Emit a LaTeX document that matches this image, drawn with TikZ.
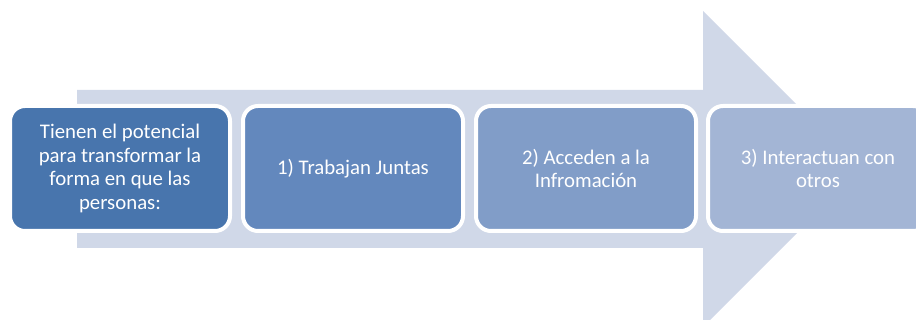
\documentclass[tikz,border=0pt]{standalone}
\usepackage{fontspec}
\setmainfont{Carlito}

\definecolor{shaft}{HTML}{D0D8E8}
\definecolor{stepA}{HTML}{4875AD}
\definecolor{stepB}{HTML}{6388BD}
\definecolor{stepC}{HTML}{819DC8}
\definecolor{stepD}{HTML}{A3B5D5}

\tikzstyle{stage} = [draw=white, line width=4pt, rounded corners=15pt, minimum width=220pt, minimum height=125pt, align=center, text=white, font=\fontsize{20.8}{23.7}\selectfont]

\begin{document}
\begin{tikzpicture}[x=1pt,y=1pt]

    \useasboundingbox (0,0) rectangle (916,320);
    \clip (0,0) rectangle (916,320);

    % big arrow behind the steps
    \fill[shaft] (77,230) -- (703,230) -- (703,309) -- (861,151) -- (703,-7) -- (703,72) -- (77,72) -- cycle;

\node[stage, fill=stepA] (intro) at (120,151.5) {Tienen el potencial\\para transformar la\\forma en que las\\personas:};
\node[stage, fill=stepB] (juntas) at (353,151.5) {1) Trabajan Juntas};
\node[stage, fill=stepC] (info) at (586,151.5) {2) Acceden a la\\Infromación};
\node[stage, fill=stepD] (otros) at (818,151.5) {3) Interactuan con\\otros};

\end{tikzpicture}
\end{document}
